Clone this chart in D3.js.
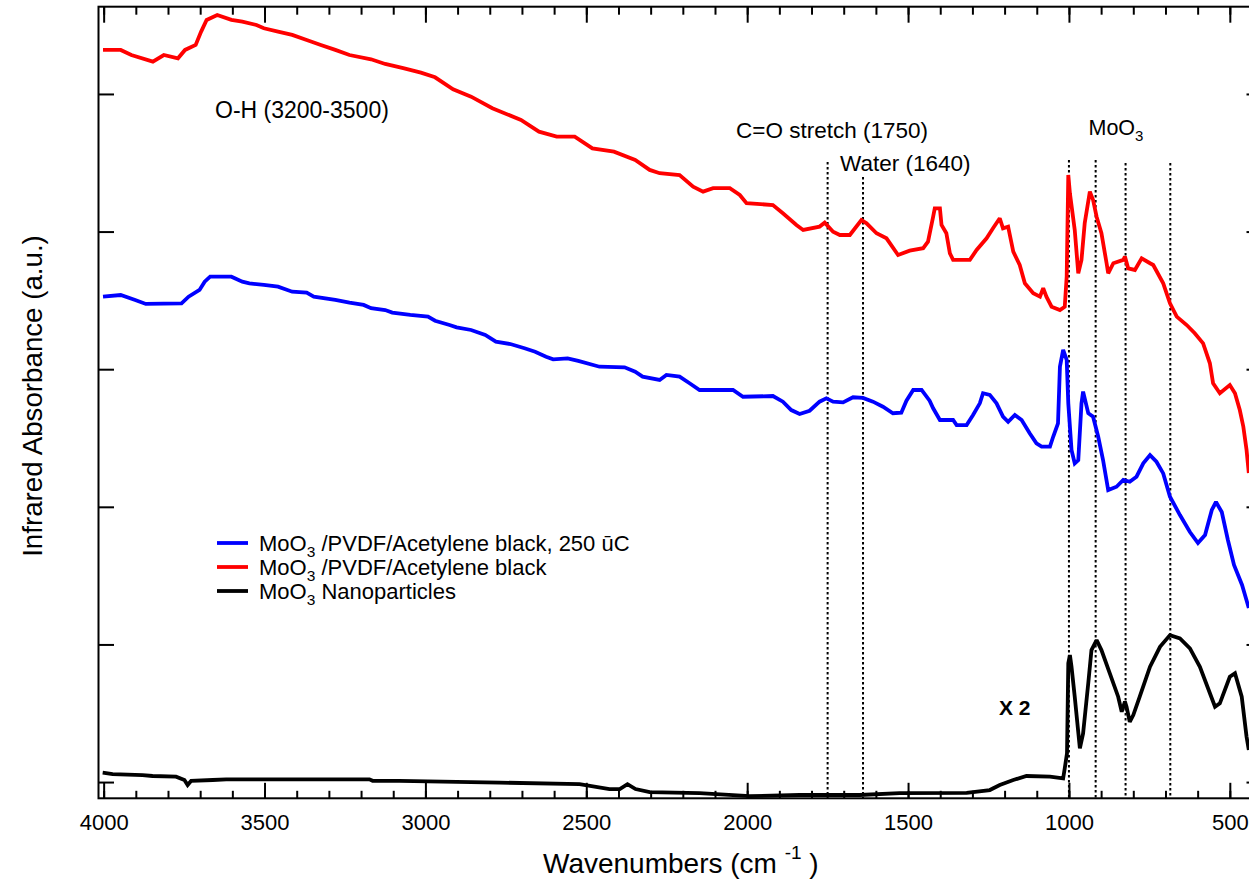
<!DOCTYPE html>
<html>
<head>
<meta charset="utf-8">
<script src="https://cdn.jsdelivr.net/npm/d3@7"></script>
<style>
  body { margin: 0; background: #fff; }
  svg { display: block; }
  text { font-family: "Liberation Sans", Arial, Helvetica, sans-serif; fill: #000; }
</style>
</head>
<body>
<svg id="chart" width="1249" height="880"></svg>
<script>
// FTIR spectra: [wavenumber (cm-1), absorbance (a.u., offset for display)]
const annealedSpectrum = [
  [4002,3.527],[3947,3.539],[3902,3.503],[3869,3.474],[3758,3.479],[3736,3.527],[3702,3.576],[3686,3.636],
  [3669,3.672],[3603,3.672],[3569,3.636],[3547,3.624],[3502,3.612],[3458,3.600],[3414,3.563],[3369,3.556],
  [3347,3.527],[3280,3.503],[3236,3.483],[3192,3.467],[3169,3.443],[3125,3.430],[3103,3.411],[3047,3.394],
  [2992,3.382],[2970,3.352],[2925,3.321],[2903,3.304],[2858,3.285],[2814,3.249],[2781,3.200],[2736,3.183],
  [2692,3.152],[2659,3.127],[2625,3.091],[2603,3.072],[2558,3.079],[2525,3.060],[2459,3.018],[2381,3.014],
  [2348,2.982],[2325,2.946],[2272,2.922],[2251,2.958],[2210,2.946],[2179,2.898],[2148,2.849],[2044,2.849],
  [2013,2.800],[1920,2.805],[1889,2.764],[1863,2.703],[1837,2.674],[1806,2.698],[1775,2.764],[1754,2.788],
  [1733,2.764],[1702,2.759],[1671,2.796],[1640,2.791],[1609,2.764],[1578,2.727],[1547,2.680],[1521,2.684],
  [1505,2.771],[1484,2.849],[1458,2.849],[1433,2.771],[1422,2.716],[1401,2.631],[1360,2.631],[1349,2.594],
  [1318,2.594],[1298,2.667],[1277,2.752],[1267,2.825],[1246,2.813],[1225,2.752],[1205,2.655],[1189,2.618],
  [1168,2.667],[1147,2.631],[1122,2.534],[1101,2.461],[1085,2.437],[1059,2.437],[1049,2.509],[1034,2.607],
  [1028,3.018],[1018,3.140],[1007,3.067],[1002,2.752],[992,2.413],[982,2.316],[971,2.340],[961,2.752],
  [956,2.837],[940,2.680],[925,2.655],[909,2.509],[894,2.340],[878,2.122],[852,2.146],[831,2.195],
  [811,2.182],[790,2.219],[769,2.316],[748,2.376],[728,2.328],[707,2.243],[686,2.073],[655,1.940],
  [624,1.817],[599,1.737],[577,1.795],[556,1.977],[543,2.035],[525,1.962],[506,1.759],[487,1.577],
  [462,1.432],[441,1.265]
];

const compositeSpectrum = [
  [4002,5.320],[3947,5.320],[3914,5.283],[3847,5.235],[3813,5.283],[3769,5.259],[3747,5.320],[3714,5.356],
  [3697,5.453],[3680,5.538],[3647,5.574],[3603,5.538],[3569,5.525],[3525,5.501],[3502,5.477],[3458,5.453],
  [3414,5.429],[3369,5.392],[3325,5.356],[3280,5.320],[3236,5.283],[3169,5.252],[3125,5.218],[3069,5.187],
  [3014,5.155],[2970,5.121],[2914,5.034],[2858,4.980],[2792,4.896],[2703,4.811],[2647,4.726],[2592,4.690],
  [2536,4.690],[2481,4.605],[2414,4.581],[2348,4.520],[2303,4.448],[2272,4.424],[2210,4.411],[2168,4.326],
  [2137,4.290],[2106,4.315],[2054,4.315],[2023,4.266],[2002,4.206],[1920,4.193],[1889,4.133],[1847,4.048],
  [1826,4.012],[1775,4.036],[1759,4.065],[1733,3.999],[1712,3.975],[1681,3.975],[1645,4.084],[1629,4.060],
  [1598,3.988],[1567,3.951],[1531,3.830],[1495,3.861],[1453,3.879],[1438,3.927],[1422,4.108],[1417,4.169],
  [1401,4.169],[1396,4.048],[1381,3.988],[1370,3.842],[1360,3.794],[1308,3.794],[1287,3.866],[1256,3.951],
  [1236,4.024],[1215,4.097],[1205,4.024],[1189,4.036],[1173,3.854],[1153,3.757],[1137,3.624],[1111,3.552],
  [1090,3.527],[1080,3.588],[1070,3.527],[1054,3.454],[1028,3.430],[1013,3.454],[1007,3.672],[1002,4.411],
  [997,4.278],[982,4.012],[971,3.697],[961,3.794],[951,4.060],[935,4.290],[925,4.230],[914,4.108],
  [899,3.988],[883,3.770],[878,3.697],[862,3.770],[831,3.794],[826,3.818],[816,3.733],[795,3.721],
  [774,3.806],[748,3.770],[738,3.757],[707,3.624],[686,3.479],[665,3.382],[634,3.321],[609,3.261],
  [583,3.188],[562,3.043],[552,2.898],[531,2.825],[500,2.885],[484,2.825],[469,2.703],[458,2.582],
  [448,2.413],[441,2.246]
];

const nanoparticleSpectrum = [
  [4003,0.068],[3972,0.058],[3879,0.051],[3848,0.044],[3775,0.039],[3749,0.015],[3739,-0.022],[3728,0.009],
  [3661,0.015],[3619,0.020],[3174,0.020],[3164,0.009],[3081,0.009],[2770,-0.004],[2521,-0.015],[2428,-0.051],
  [2396,-0.051],[2372,-0.015],[2347,-0.051],[2303,-0.073],[2148,-0.080],[1992,-0.102],[1837,-0.094],[1650,-0.094],
  [1526,-0.080],[1318,-0.078],[1246,-0.058],[1215,-0.022],[1173,0.015],[1132,0.044],[1059,0.039],[1018,0.027],
  [1013,0.100],[1006,0.209],[1002,0.863],[997,0.923],[992,0.838],[982,0.620],[966,0.245],[956,0.354],
  [940,0.717],[930,0.959],[914,1.032],[899,0.959],[873,0.790],[847,0.620],[836,0.511],[826,0.584],
  [821,0.547],[811,0.438],[800,0.487],[780,0.620],[748,0.838],[717,0.983],[686,1.068],[655,1.044],
  [624,0.972],[593,0.838],[546,0.547],[531,0.572],[500,0.765],[484,0.790],[463,0.620],[448,0.329],
  [441,0.233]
];

const seriesNames = [
  ["MoO", "3", " /PVDF/Acetylene black, 250 ūC"],
  ["MoO", "3", " /PVDF/Acetylene black"],
  ["MoO", "3", " Nanoparticles"]
];
const seriesColors = ["#0000ff", "#ff0000", "#000000"];

const majorTicks = [4000, 3500, 3000, 2500, 2000, 1500, 1000, 500];
const minorTicks = d3.range(4000, 399, -100);
const yTicks = [0, 1, 2, 3, 4, 5];

// Band markers (cm-1)
const bandMarkers = [
  { wn: 1750, y0: 162 },
  { wn: 1640, y0: 177 },
  { wn: 1000, y0: 160 },
  { wn: 917, y0: 160 },
  { wn: 824, y0: 163 },
  { wn: 685, y0: 163 }
];

const svg = d3.select("#chart");
const plotL = 98.5, plotR = 1262, plotT = 6.7, plotB = 798.3;

const x = d3.scaleLinear().domain([4016, 400]).range([plotL, plotR]);
const y = d3.scaleLinear().domain([-0.118, 5.634]).range([plotB, plotT]);

svg.append("defs").append("clipPath").attr("id", "plotClip")
  .append("rect").attr("x", plotL).attr("y", plotT).attr("width", plotR - plotL).attr("height", plotB - plotT);

// band marker lines
svg.append("g").selectAll("line").data(bandMarkers).join("line")
  .attr("x1", d => x(d.wn)).attr("x2", d => x(d.wn))
  .attr("y1", d => d.y0).attr("y2", plotB)
  .attr("stroke", "#000").attr("stroke-width", 2).attr("stroke-dasharray", "2.5,2.5");

// spectra
const line = d3.line().x(d => x(d[0])).y(d => y(d[1]));
const spectra = [nanoparticleSpectrum, compositeSpectrum, annealedSpectrum];
const spectraColors = ["#000000", "#ff0000", "#0000ff"];
svg.append("g").attr("clip-path", "url(#plotClip)")
  .selectAll("path").data(spectra).join("path")
  .attr("d", line)
  .attr("fill", "none")
  .attr("stroke", (d, i) => spectraColors[i])
  .attr("stroke-width", 3.8)
  .attr("stroke-linejoin", "miter")
  .attr("stroke-miterlimit", 2);

// axes
function styleAxis(g) {
  g.selectAll(".domain").remove();
  g.selectAll(".tick line").attr("stroke", "#000").attr("stroke-width", 2);
}
svg.append("g").attr("transform", `translate(0,${plotB})`)
  .call(d3.axisBottom(x).tickValues(minorTicks).tickSize(-7.5).tickFormat(""))
  .call(styleAxis);
svg.append("g").attr("transform", `translate(0,${plotB})`)
  .call(d3.axisBottom(x).tickValues(majorTicks).tickSize(-15.5).tickSizeOuter(0).tickPadding(16).tickFormat(d3.format("d")))
  .call(styleAxis)
  .call(g => g.selectAll(".tick text").attr("font-size", 22).attr("fill", "#000")
    .attr("font-family", "'Liberation Sans', Arial, sans-serif"));
svg.append("g").attr("transform", `translate(0,${plotT})`)
  .call(d3.axisTop(x).tickValues(minorTicks).tickSize(-8).tickFormat(""))
  .call(styleAxis);
svg.append("g").attr("transform", `translate(0,${plotT})`)
  .call(d3.axisTop(x).tickValues(majorTicks).tickSize(-16).tickFormat(""))
  .call(styleAxis);
svg.append("g").attr("transform", `translate(${plotL},0)`)
  .call(d3.axisLeft(y).tickValues(yTicks).tickSize(-15.5).tickFormat(""))
  .call(styleAxis);
svg.append("g").attr("transform", `translate(${plotR},0)`)
  .call(d3.axisRight(y).tickValues(yTicks).tickSize(-15.5).tickFormat(""))
  .call(styleAxis);

// frame
svg.append("rect").attr("x", plotL).attr("y", plotT).attr("width", plotR - plotL).attr("height", plotB - plotT)
  .attr("fill", "none").attr("stroke", "#000").attr("stroke-width", 2);

// axis titles
const xt = svg.append("text").attr("x", 543).attr("y", 873).attr("font-size", 28);
xt.append("tspan").text("Wavenumbers (cm ");
xt.append("tspan").attr("font-size", 19).attr("dy", -14).text("-1");
xt.append("tspan").attr("dy", 14).text(" )");

svg.append("text")
  .attr("transform", "translate(42,396) rotate(-90)")
  .attr("text-anchor", "middle").attr("font-size", 27.7)
  .text("Infrared Absorbance (a.u.)");

// annotations
svg.append("text").attr("x", 215).attr("y", 118).attr("font-size", 23).text("O-H (3200-3500)");
svg.append("text").attr("x", 736).attr("y", 138).attr("font-size", 22.5).text("C=O stretch (1750)");
svg.append("text").attr("x", 840).attr("y", 171).attr("font-size", 22.5).text("Water (1640)");
const mo = svg.append("text").attr("x", 1088.5).attr("y", 135).attr("font-size", 21.5);
mo.append("tspan").text("MoO");
mo.append("tspan").attr("font-size", 15).attr("dy", 6).text("3");
svg.append("text").attr("x", 999).attr("y", 715).attr("font-size", 21).attr("font-weight", "bold").text("X 2");

// legend
const legendRows = [543, 567, 591];
const lg = svg.append("g");
seriesNames.forEach((parts, i) => {
  lg.append("line").attr("x1", 217).attr("x2", 248).attr("y1", legendRows[i]).attr("y2", legendRows[i])
    .attr("stroke", seriesColors[i]).attr("stroke-width", 3.8);
  const t = lg.append("text").attr("x", 259).attr("y", legendRows[i] + 7.5).attr("font-size", 22);
  t.append("tspan").text(parts[0]);
  t.append("tspan").attr("font-size", 15.5).attr("dy", 6).text(parts[1]);
  t.append("tspan").attr("dy", -6).text(parts[2]);
});
</script>
</body>
</html>
